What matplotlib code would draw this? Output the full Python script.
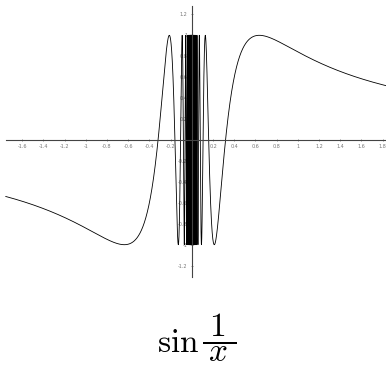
# sin(1/x) drawn across its dense oscillation near the origin
import numpy as np
import matplotlib
matplotlib.use('Agg')
import matplotlib.pyplot as plt

plt.rcParams['mathtext.fontset'] = 'cm'

X_RANGE = [-1.755, 1.84]
X_TICKS = [-1.6, -1.4, -1.2, -1.0, -0.8, -0.6, -0.4, -0.2,
           0.2, 0.4, 0.6, 0.8, 1.0, 1.2, 1.4, 1.6, 1.8]
Y_TICKS = [-1.2, -1.0, -0.8, -0.6, -0.4, -0.2,
           0.2, 0.4, 0.6, 0.8, 1.0, 1.2]

# pixel scale of the axes (px per unit) and origin location
PX_X, PX_Y = 106.0, 104.7
X0, Y0 = 191.8, 140.0
W, H = 386, 372
AX_H = 280


def tick_text(v):
    return '{:g}'.format(v)


def fx(px):
    return px / W


def fy(py):
    return (H - py) / H


fig = plt.figure(figsize=[W / 100, H / 100], dpi=100)
ax = fig.add_axes([0, (H - AX_H) / H, 1, AX_H / H])

# curve sampled on each side of zero (the label names the function)
xl = np.linspace(X_RANGE[0], -1e-4, 200000)
xr = np.linspace(1e-4, X_RANGE[1], 200000)
for xs in (xl, xr):
    ax.plot(xs, np.sin(1 / xs), color='black', lw=0.6)

ax.set_xlim(-X0 / PX_X, (W - X0) / PX_X)
ax.set_ylim(-(AX_H - Y0) / PX_Y, Y0 / PX_Y)

# axes through the origin
for side in ['top', 'right']:
    ax.spines[side].set_visible(False)
ax.spines['left'].set_position(('data', 0))
ax.spines['bottom'].set_position(('data', 0))
ax.spines['left'].set_bounds(-(277 - Y0) / PX_Y, (Y0 - 6) / PX_Y)
ax.spines['bottom'].set_bounds(X_RANGE[0], X_RANGE[1])
for side in ['left', 'bottom']:
    ax.spines[side].set_linewidth(0.8)
    ax.spines[side].set_color('#444444')

ax.set_xticks(X_TICKS)
ax.set_xticklabels([tick_text(v) for v in X_TICKS])
ax.set_yticks(Y_TICKS)
ax.set_yticklabels([tick_text(v) for v in Y_TICKS])
ax.tick_params(axis='both', length=2, width=0.5, color='#666666',
               labelsize=3.5, labelcolor='#777777', pad=2, direction='inout')

# caption: sin 1/x, fraction padded so its bar runs wider than the digits
fig.text(fx(157), fy(352), r'$\mathrm{sin}$', ha='left', va='baseline',
         fontsize=24)
fig.text(fx(219), fy(350), r'$\dfrac{\:1\:}{\:x\:}$', ha='center',
         va='baseline', fontsize=24)

plt.savefig('out.png', dpi=100)
